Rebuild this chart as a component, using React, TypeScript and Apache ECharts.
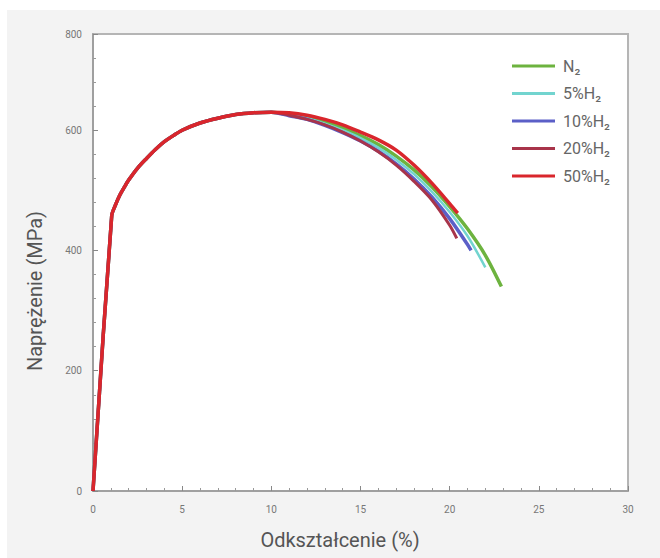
import React, { useEffect, useRef } from "react";
import * as echarts from "echarts";

// ---- Data ----
const seriesNames = ["N₂", "5%H₂", "10%H₂", "20%H₂", "50%H₂"];
const seriesColors = ["#6db33f", "#72d4cf", "#5b5fc7", "#a8344a", "#d9262c"];
const seriesWidths = [3.5, 2.5, 3.5, 3, 3.5];

// common elastic + hardening part (strain %, stress MPa)
const riseStrain = [0, 1.05, 1.25, 1.5, 1.75, 2, 2.5, 3, 3.5, 4, 4.5, 5, 6, 7, 8, 9, 10];
const riseStress = [0, 458, 475, 492, 505, 517, 537, 553, 568, 581, 591, 600, 612, 620, 626, 629, 630];

// softening parts
const n2Strain = [11, 12, 13, 14, 15, 16, 17, 18, 19, 20, 21, 22, 22.9];
const n2Stress = [627, 622, 614, 604, 591, 576, 557, 534, 506, 473, 436, 392, 340];

const h5Strain = [11, 12, 13, 14, 15, 16, 17, 18, 19, 20, 21, 22];
const h5Stress = [626, 620, 611, 600, 587, 571, 551, 527, 498, 464, 424, 372];

const h10Strain = [11, 12, 13, 14, 15, 16, 17, 18, 19, 20, 21, 21.2];
const h10Stress = [624, 618, 608, 596, 582, 565, 544, 519, 489, 453, 410, 400];

const h20Strain = [11, 12, 13, 14, 15, 16, 17, 18, 19, 20, 20.4];
const h20Stress = [625, 618, 609, 597, 582, 564, 542, 515, 484, 442, 420];

const h50Strain = [11, 12, 13, 14, 15, 16, 17, 18, 19, 20, 20.45];
const h50Stress = [629, 625, 618, 609, 597, 584, 567, 542, 512, 478, 462];

const tailStrains = [n2Strain, h5Strain, h10Strain, h20Strain, h50Strain];
const tailStresses = [n2Stress, h5Stress, h10Stress, h20Stress, h50Stress];

const xMin = 0;
const xMax = 30;
const xInterval = 5;
const yMin = 0;
const yMax = 760;
const yInterval = 200;
const yTickLabels = ["0", "200", "400", "600", "800"];

const xTitle = "Odkształcenie (%)";
const yTitle = "Naprężenie (MPa)";

const FONT = "Roboto, 'DejaVu Sans', sans-serif";

export default function App() {
  const ref = useRef<HTMLDivElement>(null);

  useEffect(() => {
    if (!ref.current) return;
    const chart = echarts.init(ref.current, undefined, { renderer: "svg" });

    const series = seriesNames.map((name, i) => {
      const data: number[][] = riseStrain.map((x, k) => [x, riseStress[k]]);
      tailStrains[i].forEach((x, k) => data.push([x, tailStresses[i][k]]));
      return {
        name,
        type: "line",
        data,
        symbol: "none",
        smooth: 0.3,
        lineStyle: { color: seriesColors[i], width: seriesWidths[i] },
        itemStyle: { color: seriesColors[i] },
        z: 2 + i,
      };
    });

    chart.setOption({
      animation: false,
      backgroundColor: "#f3f3f3",
      grid: {
        left: 86,
        right: 32,
        top: 24,
        bottom: 67,
        show: true,
        backgroundColor: "#ffffff",
        borderColor: "#b5b5b5",
        borderWidth: 2,
      },
      legend: {
        orient: "vertical",
        left: 500,
        top: 43,
        icon: "rect",
        itemWidth: 43,
        itemHeight: 3,
        itemGap: 11.5,
        textStyle: {
          fontFamily: FONT,
          fontSize: 16,
          color: "#666",
          padding: [0, 0, 0, 3],
        },
        data: seriesNames.map((n, i) => ({
          name: n,
          itemStyle: { color: seriesColors[i] },
        })),
      },
      xAxis: {
        type: "value",
        min: xMin,
        max: xMax,
        interval: xInterval,
        axisLine: { show: true, lineStyle: { color: "#999", width: 1.5 } },
        axisTick: { show: true, inside: true, length: 5, lineStyle: { color: "#888" } },
        minorTick: { show: true, splitNumber: 5, length: 3, lineStyle: { color: "#999" } },
        splitLine: { show: false },
        axisLabel: { fontFamily: FONT, fontSize: 10, color: "#777", margin: 13 },
      },
      yAxis: {
        type: "value",
        min: yMin,
        max: yMax,
        interval: yInterval,
        axisLine: { show: true, lineStyle: { color: "#999", width: 1.5 } },
        axisTick: { show: true, inside: true, length: 5, lineStyle: { color: "#888" } },
        minorTick: { show: true, splitNumber: 5, length: 3, lineStyle: { color: "#999" } },
        splitLine: { show: false },
        axisLabel: {
          fontFamily: FONT,
          fontSize: 10,
          color: "#777",
          margin: 11,
          formatter: (v: number, idx: number) => yTickLabels[idx] ?? String(v),
        },
      },
      graphic: [
        {
          type: "text",
          x: 333,
          y: 530,
          style: {
            text: xTitle,
            fontFamily: FONT,
            fontSize: 20,
            fill: "#555",
            textAlign: "center",
            textVerticalAlign: "middle",
          },
        },
        {
          type: "text",
          x: 28,
          y: 281,
          rotation: Math.PI / 2,
          style: {
            text: yTitle,
            fontFamily: FONT,
            fontSize: 20,
            fill: "#555",
            textAlign: "center",
            textVerticalAlign: "middle",
          },
        },
      ],
      series,
    });

    return () => chart.dispose();
  }, []);

  return (
    <div style={{ position: "fixed", left: 0, top: 0, width: 660, height: 558, background: "#ffffff" }}>
      <div
        ref={ref}
        style={{ position: "absolute", left: 7, top: 10, width: 653, height: 548 }}
      />
    </div>
  );
}
